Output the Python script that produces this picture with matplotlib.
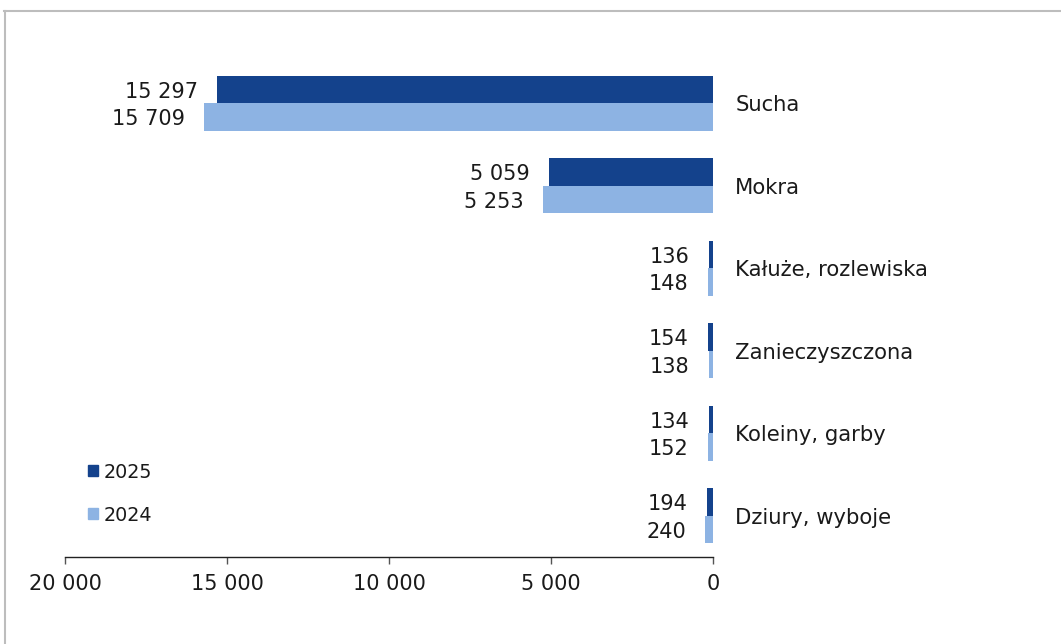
import matplotlib
matplotlib.use("Agg")
import matplotlib.pyplot as plt
from matplotlib.lines import Line2D
from matplotlib.patches import Patch
from matplotlib.ticker import FuncFormatter
import numpy as np

categories = ["Sucha", "Mokra", "Kałuże, rozlewiska", "Zanieczyszczona",
              "Koleiny, garby", "Dziury, wyboje"]
values_2025 = [15297, 5059, 136, 154, 134, 194]
values_2024 = [15709, 5253, 148, 138, 152, 240]
series_labels = ["2025", "2024"]
xticks = [20000, 15000, 10000, 5000, 0]

c2025 = "#14428C"
c2024 = "#8DB3E3"

plt.rcParams['font.family'] = ['DejaVu Sans']

fig = plt.figure(figsize=(10.61, 6.44), dpi=100)
ax = fig.add_axes([65/1061, 87/644, 648/1061, 495/644])

y = np.arange(len(categories))
h = 0.333
b1 = ax.barh(y - h/2, values_2025, height=h, color=c2025, label=series_labels[0])
b2 = ax.barh(y + h/2, values_2024, height=h, color=c2024, label=series_labels[1])

ax.set_xlim(20000, 0)
ax.set_ylim(len(categories) - 0.5, -0.5)

def fmt(v):
    return f"{int(v):,}".replace(",", " ")

for bars, vals in ((b1, values_2025), (b2, values_2024)):
    for bar, v in zip(bars, vals):
        ax.annotate(fmt(v), xy=(v, bar.get_y() + bar.get_height()/2),
                    xytext=(-14, -1.5), textcoords="offset points",
                    ha="right", va="center", fontsize=15, color="#1a1a1a",
                    annotation_clip=False)

for yi, cat in zip(y, categories):
    ax.annotate(cat, xy=(0, yi), xytext=(16, -1.5), textcoords="offset points",
                ha="left", va="center", fontsize=15.2, color="#1a1a1a",
                annotation_clip=False)

ax.set_xticks(xticks)
ax.xaxis.set_major_formatter(FuncFormatter(lambda v, p: fmt(v)))
ax.tick_params(axis="x", direction="out", length=5, width=1, color="#555555",
               labelsize=15, labelcolor="#1a1a1a", pad=7.5)
ax.set_yticks([])
for s in ("left", "top", "right"):
    ax.spines[s].set_visible(False)
ax.spines["bottom"].set_color("#222222")
ax.spines["bottom"].set_linewidth(1)

leg = fig.legend(handles=[Patch(color=c2025, label=series_labels[0]),
                          Patch(color=c2024, label=series_labels[1])],
                 loc="lower left", bbox_to_anchor=(75/1061, (644-538)/644),
                 frameon=False, fontsize=13.8, handlelength=0.5, handleheight=0.5,
                 handletextpad=0.3, labelspacing=1.25, borderpad=0.2)
for t in leg.get_texts():
    t.set_color("#1a1a1a")

# outer border (cropped frame)
fig.add_artist(Line2D([4/1061, 1.0], [1 - 10.5/644, 1 - 10.5/644],
                      transform=fig.transFigure, color="#BDBDBD", linewidth=1.5))
fig.add_artist(Line2D([4.5/1061, 4.5/1061], [0, 1 - 10.5/644],
                      transform=fig.transFigure, color="#BDBDBD", linewidth=1.5))

fig.savefig("out.png", dpi=100)
